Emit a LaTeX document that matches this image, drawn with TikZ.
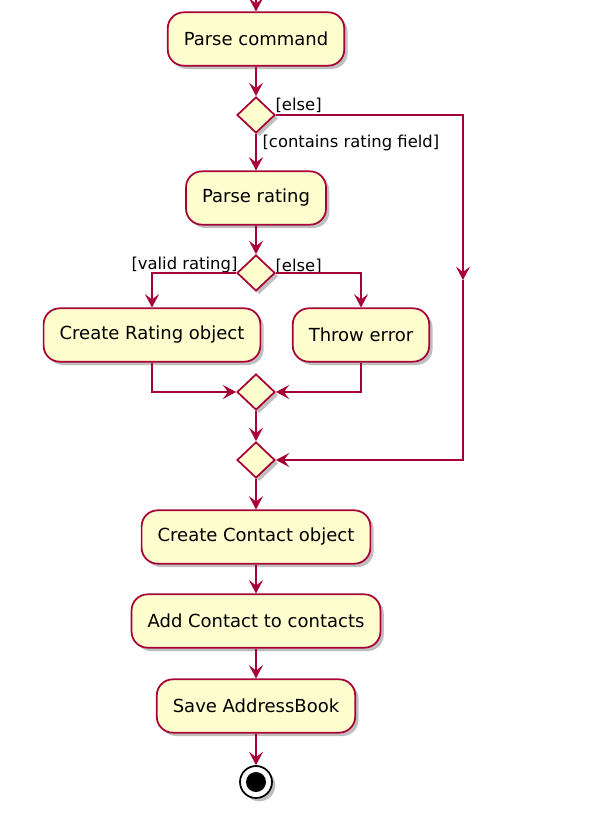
\documentclass[tikz,border=0pt]{standalone}
\usepackage{fontspec}
\setsansfont{DejaVu Sans}
\usetikzlibrary{shapes.geometric,arrows.meta,shadows}

\definecolor{umlfill}{HTML}{FEFECE}
\definecolor{umlline}{HTML}{A80036}

\tikzset{
  shade3/.style={drop shadow={shadow xshift=2.5pt, shadow yshift=-2.5pt, opacity=0.25, fill=black}},
  action/.style={draw=umlline, fill=umlfill, line width=1.3pt, rounded corners=12pt,
    minimum height=40pt, inner xsep=12pt, font=\sffamily\fontsize{13.5}{16}\selectfont, shade3},
  choice/.style={diamond, draw=umlline, fill=umlfill, line width=1.3pt, inner sep=0pt,
    minimum width=28.5pt, minimum height=27pt, shade3},
  guard/.style={font=\sffamily\fontsize{12.3}{14}\selectfont, inner sep=1pt},
  flow/.style={draw=umlline, line width=1.1pt, -{Stealth[length=10pt, width=10.5pt, inset=4pt]}},
  link/.style={draw=umlline, line width=1.1pt}
}

\begin{document}
\begin{tikzpicture}[x=0.75pt, y=-0.75pt]
  \useasboundingbox (0,0) rectangle (589,832);
  \def\cx{256} % centre line

  % actions
  \node[action] (parse)   at (\cx,39)  {Parse command};
  \node[action] (rating)  at (\cx,198) {Parse rating};
  \node[action] (mkrate)  at (152,335) {Create Rating object};
  \node[action] (throw)   at (361,335) {Throw error};
  \node[action] (mkcont)  at (\cx,537) {Create Contact object};
  \node[action] (addcont) at (\cx,621) {Add Contact to contacts};
  \node[action] (save)    at (\cx,706) {Save AddressBook};

  % decisions and merges
  \node[choice] (hasrate)  at (\cx,115) {};
  \node[choice] (isvalid)  at (\cx,273) {};
  \node[choice] (mergein)  at (\cx,392) {};
  \node[choice] (mergeout) at (\cx,460) {};

  % end
  \node[circle, draw=black, fill=white, line width=1.3pt, minimum size=24pt, inner sep=0pt, shade3] (stop) at (\cx,782) {};
  \fill (stop) circle (7.5pt);

  % guards
  \node[guard, anchor=south west] (g1) at (274,114) {[else]};
  \node[guard, anchor=west]       (g2) at (261,143) {[contains rating field]};
  \node[guard, anchor=south east] (g3) at (239,275) {[valid rating]};
  \node[guard, anchor=south west] (g4) at (274,275) {[else]};

  % flows
  \coordinate (start) at (\cx,-2);
  \coordinate (rmid) at (463,280);
  \draw[flow] (start) -- (parse);
  \draw[flow] (parse) -- (hasrate);
  \draw[flow] (hasrate) -- (rating);
  \draw[flow] (hasrate.east) -| (rmid);
  \draw[flow] (rmid) |- (mergeout.east);
  \draw[flow] (rating) -- (isvalid);
  \draw[flow] (isvalid.west) -| (mkrate);
  \draw[flow] (isvalid.east) -| (throw);
  \draw[flow] (mkrate) |- (mergein.west);
  \draw[flow] (throw) |- (mergein.east);
  \draw[flow] (mergein) -- (mergeout);
  \draw[flow] (mergeout) -- (mkcont);
  \draw[flow] (mkcont) -- (addcont);
  \draw[flow] (addcont) -- (save);
  \draw[flow] (save) -- (stop);
\end{tikzpicture}
\end{document}
